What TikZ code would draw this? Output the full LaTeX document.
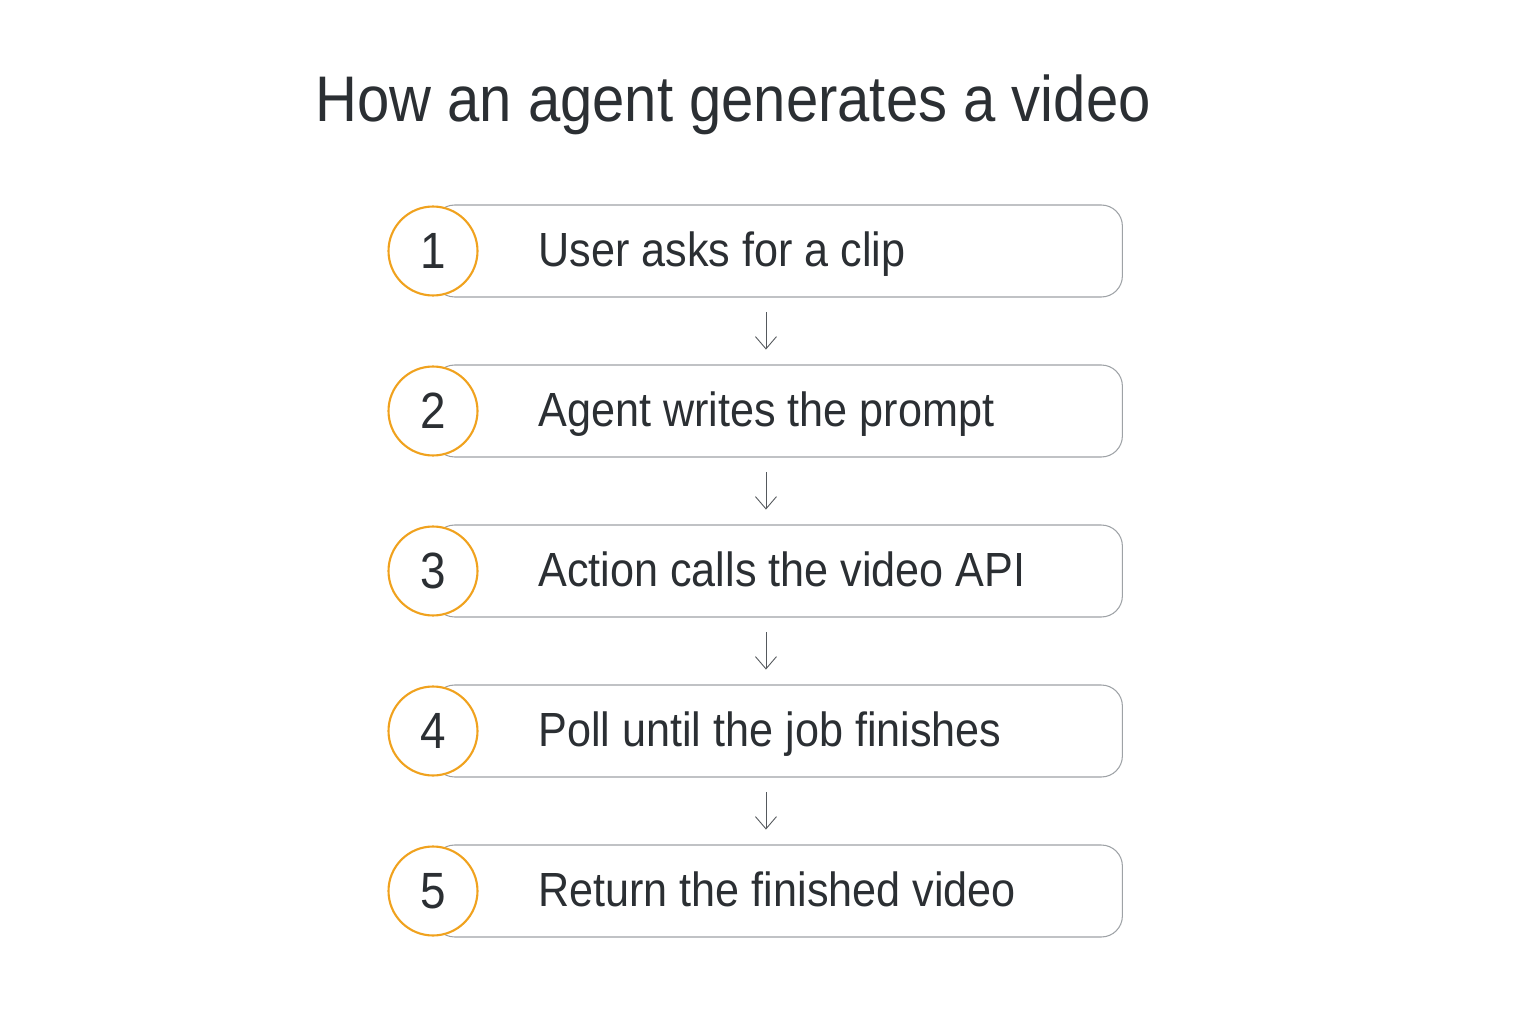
\documentclass[tikz,border=0pt]{standalone}
\usepackage{fontspec}
\setmainfont[FakeStretch=0.9]{Liberation Sans}
\usetikzlibrary{positioning,arrows.meta}
\definecolor{ink}{HTML}{2B2F33}
\definecolor{ring}{HTML}{F0A21E}
\definecolor{edge}{HTML}{9EA2A6}
\definecolor{stem}{HTML}{55595D}
\tikzset{
  bar/.style={draw=edge, line width=0.6pt, rounded corners=12pt, minimum width=13.78cm, minimum height=1.84cm, anchor=west, inner sep=0pt},
  num/.style={circle, draw=ring, line width=1.2pt, fill=white, minimum size=1.78cm, inner sep=0pt, text=ink, font=\fontsize{29}{30}\selectfont},
  lbl/.style={anchor=base west, text=ink, inner sep=0pt, font=\fontsize{27.3}{30}\selectfont},
  arr/.style={draw=stem, line width=0.5pt, -{Straight Barb[length=7pt,width=12pt,line width=0.5pt]}, shorten <=8.5pt, shorten >=8.5pt}
}
\begin{document}
\begin{tikzpicture}[x=0.02cm,y=-0.02cm]
\useasboundingbox (0,0) rectangle (1536,1024);

\node[anchor=base, text=ink, inner sep=0pt, font=\fontsize{36.7}{40}\selectfont](title) at (733,122){How an agent generates a video};

\foreach \i/\txt in {1/User asks for a clip, 2/Agent writes the prompt, 3/Action calls the video API, 4/Poll until the job finishes, 5/Return the finished video}{
  \node[bar](b\i) at (433,{91+160*\i}){};
  \node[num](n\i) at (433,{91+160*\i}){\i};
  \node[lbl](t\i) at (538,{106+160*\i}){\txt};
}

\foreach \i [evaluate=\i as \j using int(\i+1)] in {1,...,4}
  \draw[arr] ([xshift=-12*0.02cm]b\i.south) -- ([xshift=-12*0.02cm]b\j.north);
\end{tikzpicture}
\end{document}
